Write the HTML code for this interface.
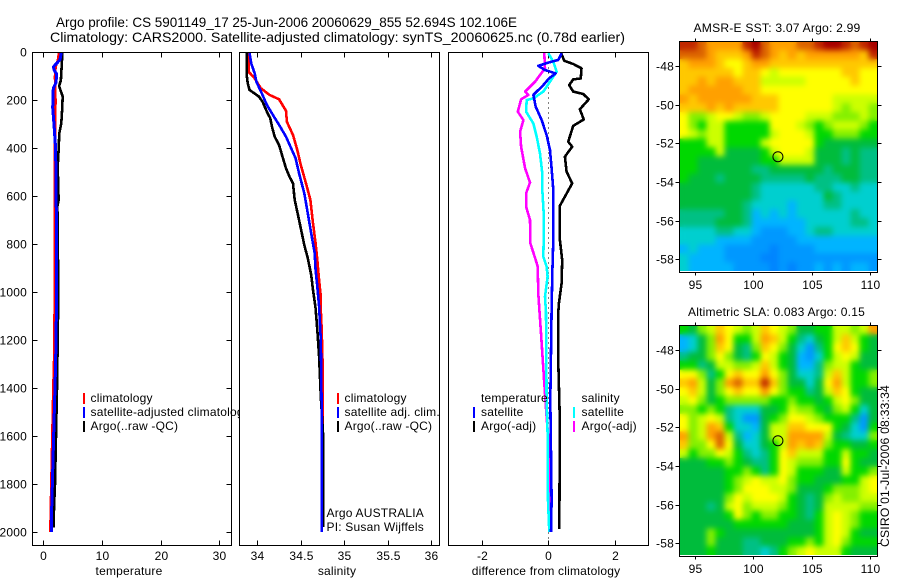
<!DOCTYPE html>
<html>
<head>
<meta charset="utf-8">
<title>Argo profile</title>
<style>
html,body{margin:0;padding:0;background:#fff;}
svg{display:block;}
text{font-family:"Liberation Sans",sans-serif;font-size:12px;fill:#000;letter-spacing:0.2px;}
.t14{font-size:14px;letter-spacing:0;}
</style>
</head>
<body>
<svg id="chart" xmlns="http://www.w3.org/2000/svg" width="900" height="580" viewBox="0 0 900 580">
  <defs>
    <filter id="mapSmooth" filterUnits="userSpaceOnUse" x="660" y="30" width="230" height="540" color-interpolation-filters="sRGB">
      <feGaussianBlur in="SourceGraphic" stdDeviation="3" result="soft"/>
      <feMerge>
        <feMergeNode in="SourceGraphic"/>
        <feMergeNode in="soft"/>
      </feMerge>
    </filter>
    <clipPath id="clipSst"><rect x="679.5" y="41.5" width="198" height="229.5"/></clipPath>
    <clipPath id="clipSla"><rect x="679.5" y="325.5" width="198" height="229.5"/></clipPath>
  </defs>
  <rect x="0" y="0" width="900" height="580" fill="#fff"/>
  <text class="t14" x="56" y="27" textLength="461" lengthAdjust="spacingAndGlyphs">Argo profile: CS 5901149_17 25-Jun-2006 20060629_855 52.694S 102.106E</text>
  <text class="t14" x="50" y="42" textLength="575" lengthAdjust="spacingAndGlyphs">Climatology: CARS2000. Satellite-adjusted climatology: synTS_20060625.nc (0.78d earlier)</text>

  <g id="panel1"></g>
  <g id="legend1">
    <rect x="83" y="393" width="2" height="11" fill="#f00"/>
    <rect x="83" y="407" width="2" height="11" fill="#00f"/>
    <rect x="83" y="421" width="2" height="11" fill="#000"/>
    <text x="90.5" y="402">climatology</text>
    <text x="90.5" y="416">satellite-adjusted climatology</text>
    <text x="90.5" y="430">Argo(..raw -QC)</text>
  </g>

  <g id="panel2"></g>
  <g id="legend2">
    <rect x="337" y="393" width="2" height="11" fill="#f00"/>
    <rect x="337" y="407" width="2" height="11" fill="#00f"/>
    <rect x="337" y="421" width="2" height="11" fill="#000"/>
    <text x="344.5" y="402">climatology</text>
    <text x="344.5" y="416">satellite adj. clim.</text>
    <text x="344.5" y="430">Argo(..raw -QC)</text>
    <text x="326.5" y="517">Argo AUSTRALIA</text>
    <text x="326.5" y="531">PI: Susan Wijffels</text>
  </g>

  <g id="panel3"></g>
  <g id="legend3">
    <rect x="473" y="407" width="2" height="11" fill="#00f"/>
    <rect x="473" y="421" width="2" height="11" fill="#000"/>
    <rect x="573" y="407" width="2" height="11" fill="#0ff"/>
    <rect x="573" y="421" width="2" height="11" fill="#f0f"/>
    <text x="481" y="402">temperature</text>
    <text x="481" y="416">satellite</text>
    <text x="481" y="430">Argo(-adj)</text>
    <text x="581.5" y="402">salinity</text>
    <text x="581.5" y="416">satellite</text>
    <text x="581.5" y="430">Argo(-adj)</text>
  </g>

  <g id="map1"></g>
  <g id="map2"></g>
  <text x="777" y="32" text-anchor="middle" textLength="167" lengthAdjust="spacingAndGlyphs">AMSR-E SST: 3.07 Argo: 2.99</text>
  <text x="776.5" y="316" text-anchor="middle" textLength="177" lengthAdjust="spacingAndGlyphs">Altimetric SLA: 0.083 Argo: 0.15</text>
  <text transform="translate(889,547) rotate(-90)" textLength="162" lengthAdjust="spacingAndGlyphs">CSIRO 01-Jul-2006 08:33:34</text>
</svg>
<script>
// ---- axis tick labels
const depthTicks = [0,200,400,600,800,1000,1200,1400,1600,1800,2000];
const tempTicks = [0,10,20,30];
const salTicks = [34,34.5,35,35.5,36];
const diffTicks = [-2,0,2];
const lonTicks = [95,100,105,110];
const latTicks = [-48,-50,-52,-54,-56,-58];

// ---- temperature series
const tempClimDepth = [0,30,60,100,200,400,1000,1250,1400,1800,2000];
const tempClimValues = [2.68,2.5,2.1,2.0,2.08,2.0,1.94,1.88,1.7,1.37,1.2];
const tempArgoDepth = [0,115,140,184,240,295,337,408,477,615,640,1000,1200,1400,1600,1800,1900,1980];
const tempArgoValues = [3.25,3.0,2.7,3.3,3.2,3.07,2.73,2.6,2.45,2.6,2.4,2.55,2.45,2.33,2.16,2.0,1.82,1.77];
const tempSatDepth = [0,30,45,60,75,90,125,150,230,300,400,600,1000,1300,1500,1700,1900,2000];
const tempSatValues = [3.07,2.85,2.28,1.7,1.9,2.28,2.16,1.7,1.6,1.82,2.1,2.2,2.28,2.1,1.88,1.65,1.43,1.43];

// ---- salinity series
const salClimDepth = [0,20,80,108,149,177,195,243,289,344,407,469,546,615,712,796,865,949,1018,1074,1157,1300,1500,2000];
const salClimValues = [33.9,33.9,33.9,33.97,34.04,34.14,34.25,34.33,34.34,34.41,34.46,34.5,34.56,34.61,34.64,34.67,34.69,34.71,34.73,34.73,34.74,34.75,34.75,34.74];
const salArgoDepth = [0,101,128,156,184,205,247,275,312,351,386,434,483,518,546,615,664,733,803,858,928,990,1067,1157,1268,1435,1587,1866,1978];
const salArgoValues = [33.88,33.88,33.89,33.91,34.02,34.06,34.11,34.15,34.17,34.2,34.25,34.29,34.33,34.37,34.41,34.43,34.46,34.5,34.54,34.58,34.62,34.64,34.67,34.69,34.71,34.73,34.755,34.76,34.76];
const salSatDepth = [0,45,87,122,177,219,261,302,351,400,441,504,587,671,754,837,907,976,1060,1200,1500,1880,2000];
const salSatValues = [33.91,33.93,33.97,33.99,34.06,34.11,34.18,34.25,34.33,34.39,34.44,34.48,34.54,34.58,34.62,34.66,34.67,34.69,34.71,34.73,34.74,34.74,34.74];

// ---- difference series
const diffTempArgoDepth = [0,34,48,66,108,112,136,163,173,195,237,279,306,372,393,434,497,546,639,782,865,963,1046,1084,1293,1543,1988];
const diffTempArgoValues = [0.38,0.48,0.75,1.0,0.98,0.75,0.63,0.75,1.05,1.22,0.95,1.07,0.75,0.6,0.72,0.5,0.55,0.72,0.35,0.35,0.42,0.4,0.32,0.3,0.3,0.35,0.33];
const diffTempSatDepth = [3,31,42,56,73,87,108,136,177,226,282,344,407,483,573,671,782,921,1074,1449,1866,2000];
const diffTempSatValues = [0.4,0.3,0,-0.3,-0.1,0.22,0.02,-0.15,-0.45,-0.38,-0.2,-0.05,0.05,0.1,0.15,0.15,0.15,0.12,0.1,0.06,0.1,0.08];
const diffSalSatDepth = [3,38,80,115,163,191,198,247,296,351,421,504,573,671,782,851,893,935,1018,1084,1449,1588,1866,2000];
const diffSalSatValues = [0,0.15,0.25,0.08,-0.15,-0.45,-0.65,-0.67,-0.45,-0.35,-0.25,-0.18,-0.18,-0.14,-0.14,-0.15,-0.05,-0.02,-0.1,-0.07,-0.05,-0.02,-0.01,0.03];
const diffSalArgoDepth = [3,66,122,163,177,195,247,282,330,393,483,542,587,643,698,796,865,893,1004,1032,1171,1380,1519,1658,1936,2000];
const diffSalArgoValues = [-0.12,-0.1,-0.4,-0.7,-0.6,-0.82,-0.92,-0.75,-0.85,-0.82,-0.7,-0.55,-0.67,-0.67,-0.55,-0.54,-0.38,-0.32,-0.3,-0.29,-0.22,-0.12,-0.05,0.03,0.08,0.08];

// ---- map level colour ramp (index = level)
const levelColors = ['#0084ff','#0098ff','#00b4ff','#00cfcf','#00c084','#00bc3c','#00d800','#84f000','#ccff00','#ffff00','#ffc800','#ffa000','#dc6400','#c02800','#a80000'];

// ---- gridded map levels (rows north to south)
const sstCells = [
[13,13,12,11,11,11,11,13,14,12,11,11,11,12,12,13,14,14,13,12,13,14],
[12,12,12,11,10,10,10,11,13,12,11,10,11,10,11,11,11,11,11,11,10,13],
[10,11,11,11,10,9,9,10,11,11,10,10,10,10,10,10,10,10,10,10,10,10],
[10,10,10,10,10,10,9,10,10,9,8,9,9,9,9,9,9,9,10,10,9,9],
[10,10,11,10,11,11,10,10,10,8,8,8,8,8,9,9,9,9,9,10,9,9],
[10,11,11,11,11,11,11,10,10,9,9,9,9,9,9,9,9,9,9,9,9,9],
[11,10,11,11,11,11,11,11,10,10,10,9,9,9,9,9,9,8,8,8,8,8],
[10,10,10,11,10,11,10,10,10,10,10,9,9,9,9,9,9,8,7,8,8,7],
[9,7,7,8,9,9,8,7,7,8,9,9,9,9,8,8,8,7,7,7,8,7],
[9,7,6,8,8,6,6,6,6,6,9,9,9,8,7,6,7,8,8,8,7,6],
[9,8,7,8,8,6,6,6,6,6,8,9,9,9,8,6,6,7,7,7,6,6],
[6,6,6,8,8,6,6,6,6,8,9,9,9,9,9,6,5,5,5,5,5,5],
[6,6,6,6,8,5,5,5,5,6,8,9,9,9,8,5,5,5,4,5,4,4],
[6,6,5,5,5,5,5,5,5,6,6,8,8,8,8,5,5,5,4,5,4,4],
[6,6,5,5,5,5,5,5,4,4,5,5,5,5,5,5,4,5,5,5,4,4],
[6,5,5,5,4,5,5,5,5,4,4,4,4,4,5,4,4,4,5,5,4,4],
[5,5,5,5,5,5,5,5,4,3,3,3,3,3,3,4,4,3,3,4,3,3],
[5,5,5,5,5,5,5,5,4,3,3,3,3,3,3,3,5,4,3,3,3,3],
[5,5,5,5,5,5,5,4,3,3,3,3,2,3,3,3,4,4,3,3,3,3],
[4,4,4,4,4,5,5,4,2,3,2,3,2,3,3,3,3,3,3,4,3,3],
[4,4,4,4,5,5,5,4,2,2,2,2,2,2,3,3,3,3,3,4,4,3],
[3,3,3,3,4,4,3,3,2,1,1,1,2,2,3,4,4,3,3,3,3,3],
[3,3,3,3,2,2,2,2,1,1,1,1,1,2,2,2,2,2,2,2,2,2],
[2,3,2,2,2,1,1,1,1,1,0,1,1,1,1,2,2,2,2,2,2,2],
[3,2,2,2,2,1,1,1,1,0,0,1,1,1,1,1,1,1,1,1,1,1],
[3,2,2,2,2,2,1,1,1,1,0,1,0,1,1,2,1,2,1,2,2,1]
];
const slaCells = [
[6,5,7,8,10,9,8,7,8,10,9,8,7,5,5,6,6,8,8,7,8,11],
[2,3,5,7,11,9,6,6,8,11,10,8,6,4,3,5,6,8,10,8,6,5],
[2,3,5,7,10,9,5,4,7,10,9,7,5,3,1,4,6,9,10,9,6,5],
[4,5,5,7,9,7,5,4,6,9,8,6,5,2,1,3,6,8,9,8,5,5],
[6,6,4,5,8,8,7,7,8,10,8,6,5,2,2,4,7,8,8,6,5,5],
[9,9,7,4,6,9,10,9,9,11,9,7,5,3,3,4,8,10,8,6,6,7],
[10,11,8,5,7,11,12,10,10,13,10,7,5,5,3,5,9,11,8,6,6,7],
[9,10,8,5,7,9,10,9,9,11,9,7,6,6,4,5,8,10,9,6,5,5],
[8,9,7,5,6,7,7,7,7,7,6,6,7,6,6,5,6,8,9,7,5,5],
[7,7,6,7,6,4,3,3,3,5,5,6,8,7,7,6,5,7,8,6,3,5],
[9,7,8,9,8,4,3,1,1,5,6,7,9,9,8,7,6,6,6,4,1,5],
[9,7,8,11,10,6,3,3,2,5,8,8,10,10,9,9,9,6,5,3,1,6],
[11,7,8,11,12,8,4,2,3,5,8,8,11,11,11,11,8,5,4,3,3,7],
[10,7,7,9,12,9,5,3,3,5,6,8,11,10,11,10,7,6,6,5,5,6],
[8,6,7,7,9,8,6,4,3,4,6,9,10,8,8,8,6,6,8,6,6,5],
[5,5,5,6,6,7,6,5,4,4,6,9,8,7,7,7,6,6,9,6,5,5],
[5,5,5,5,5,6,6,7,6,4,6,9,8,6,6,6,5,5,8,6,6,7],
[5,5,5,5,5,6,7,8,9,8,8,9,7,6,6,5,5,5,6,6,8,9],
[5,5,5,5,5,6,7,9,9,9,8,8,7,5,5,5,6,7,7,7,8,9],
[5,5,5,5,5,7,9,8,9,9,9,8,6,5,4,5,7,8,7,7,8,8],
[5,5,5,4,5,8,9,7,8,8,8,7,6,5,4,5,8,8,8,8,7,7],
[5,5,5,5,5,6,9,7,6,7,7,6,6,5,4,6,8,9,8,7,6,6],
[5,5,5,5,5,5,6,6,6,6,6,6,5,5,5,6,8,9,8,7,6,6],
[5,5,5,7,6,5,5,5,5,5,5,5,5,5,5,6,8,9,8,6,5,5],
[5,5,5,7,5,5,5,4,4,5,5,5,6,6,7,6,8,9,7,6,6,6],
[5,5,5,6,5,5,5,4,4,3,4,6,7,8,9,8,8,8,6,5,5,5]
];
const floatLon = 102.106;
const floatLat = -52.694;

const NS = 'http://www.w3.org/2000/svg';
const PLOT_TOP = 52.5, PLOT_BOTTOM = 545.5;
function depthY(d){ return 52.5 + d * 0.2398; }
function tempX(v){ return 43.3 + v * 5.867; }
function salX(v){ return 257.3 + (v - 34) * 87; }
function diffX(v){ return 548.3 + v * 33.2; }

function make(parent, tag, attrs){
  const el = document.createElementNS(NS, tag);
  for (const k in attrs) el.setAttribute(k, attrs[k]);
  parent.appendChild(el);
  return el;
}
function drawSeries(parent, name, depths, values, xf, color, width){
  const pts = depths.map((d, i) => xf(values[i]).toFixed(1) + ',' + depthY(d).toFixed(1)).join(' ');
  const line = make(parent, 'polyline', {points: pts, fill: 'none', stroke: color, 'stroke-width': width, 'stroke-linejoin': 'round', 'shape-rendering': 'crispEdges'});
  
  
}
function drawFrame(parent, name, x0, x1, ticks, xf, xTitle, titleX){
  const bg = make(parent, 'rect', {x: x0, y: PLOT_TOP, width: x1 - x0, height: PLOT_BOTTOM - PLOT_TOP, fill: '#fff'});
  
  
  ticks.forEach(t => {
    const x = Math.round(xf(t)) + 0.5;
    const tt = make(parent, 'line', {x1: x, x2: x, y1: PLOT_TOP, y2: PLOT_TOP + 5, stroke: '#000'});
    
    
    const bt = make(parent, 'line', {x1: x, x2: x, y1: PLOT_BOTTOM - 5, y2: PLOT_BOTTOM, stroke: '#000'});
    
    
    const lb = make(parent, 'text', {x: x, y: 560, 'text-anchor': 'middle'});
    lb.textContent = String(t);
    
    
  });
  const ti = make(parent, 'text', {x: titleX, y: 575, 'text-anchor': 'middle'});
  ti.textContent = xTitle;
  
  
}
function drawBorder(parent, name, x0, x1){
  const b = make(parent, 'rect', {x: x0, y: PLOT_TOP, width: x1 - x0, height: PLOT_BOTTOM - PLOT_TOP, fill: 'none', stroke: '#000'});
  
  
}

// panel 1
const p1 = document.getElementById('panel1');
drawFrame(p1, 'temperature', 32.5, 231.5, tempTicks, tempX, 'temperature', 129);
depthTicks.forEach(d => {
  const y = Math.floor(depthY(d)) + 0.5;
  const a = make(p1, 'line', {x1: 32.5, x2: 37.5, y1: y, y2: y, stroke: '#000'});
  
  
  const b = make(p1, 'line', {x1: 226.5, x2: 231.5, y1: y, y2: y, stroke: '#000'});
  
  
  const t = make(p1, 'text', {x: 27, y: y + 4, 'text-anchor': 'end'});
  t.textContent = String(d);
  
  
});
drawSeries(p1, 'temperature-climatology-line', tempClimDepth, tempClimValues, tempX, '#f00', 2.6);
drawSeries(p1, 'temperature-argo-line', tempArgoDepth, tempArgoValues, tempX, '#000', 2.6);
drawSeries(p1, 'temperature-satellite-line', tempSatDepth, tempSatValues, tempX, '#00f', 3);

// panel 2 (white plot area is appended after legend 1 so it clips the overflowing label)
drawBorder(p1, 'temperature', 32.5, 231.5);
const p2 = document.getElementById('panel2');
p1.parentNode.insertBefore(document.getElementById('legend1'), p2);
drawFrame(p2, 'salinity', 239.5, 439.5, salTicks, salX, 'salinity', 337);
drawSeries(p2, 'salinity-climatology-line', salClimDepth, salClimValues, salX, '#f00', 2.6);
drawSeries(p2, 'salinity-argo-line', salArgoDepth, salArgoValues, salX, '#000', 2.6);
drawSeries(p2, 'salinity-satellite-line', salSatDepth, salSatValues, salX, '#00f', 2.6);
drawBorder(p2, 'salinity', 239.5, 439.5);

// panel 3
const p3 = document.getElementById('panel3');
drawFrame(p3, 'difference', 448.5, 648.5, diffTicks, diffX, 'difference from climatology', 546);
const zeroX = Math.round(diffX(0)) + 0.5;
const zero = make(p3, 'line', {x1: zeroX, x2: zeroX, y1: PLOT_TOP, y2: PLOT_BOTTOM, stroke: '#000', 'stroke-dasharray': '1 4'});


drawSeries(p3, 'difference-temperature-argo-line', diffTempArgoDepth, diffTempArgoValues, diffX, '#000', 2.6);
drawSeries(p3, 'difference-salinity-argo-line', diffSalArgoDepth, diffSalArgoValues, diffX, '#f0f', 2.6);
drawSeries(p3, 'difference-salinity-satellite-line', diffSalSatDepth, diffSalSatValues, diffX, '#0ff', 2.6);
drawSeries(p3, 'difference-temperature-satellite-line', diffTempSatDepth, diffTempSatValues, diffX, '#00f', 2.6);
drawBorder(p3, 'difference', 448.5, 648.5);

// maps
function drawMap(parent, name, cells, top, bottom, dataBottom, lat48Y, labelY, clipId){
  const left = 679.5, right = 877.5;
  const lonX = v => 695 + (v - 95) * 11.67;
  const latY = v => lat48Y + (-48 - v) * 19.33;
  const rows = cells.length, cols = cells[0].length;
  const cw = (right - left) / cols, ch = (dataBottom - top) / rows;
  const clip = make(parent, 'g', {'clip-path': 'url(#' + clipId + ')'});
  
  
  const img = make(clip, 'g', {filter: 'url(#mapSmooth)'});
  
  
  cells.forEach((row, j) => row.forEach((level, i) => {
    const c = make(img, 'rect', {x: (left + i * cw).toFixed(2), y: (top + j * ch).toFixed(2), width: (cw + 0.4).toFixed(2), height: (ch + 0.4).toFixed(2), fill: levelColors[level]});
    
    
  }));
  const fr = make(parent, 'rect', {x: left, y: top, width: right - left, height: bottom - top, fill: 'none', stroke: '#000'});
  
  
  lonTicks.forEach(t => {
    const x = Math.round(lonX(t)) + 0.5;
    [[top - 3, top], [bottom, bottom + 3]].forEach(s => {
      const tk = make(parent, 'line', {x1: x, x2: x, y1: s[0], y2: s[1], stroke: '#000'});
      
      
    });
    const lb = make(parent, 'text', {x: x, y: labelY, 'text-anchor': 'middle'});
    lb.textContent = String(t);
    
    
  });
  latTicks.forEach(t => {
    const y = Math.round(latY(t)) + 0.5;
    [[left - 4, left], [right, right + 4]].forEach(s => {
      const tk = make(parent, 'line', {x1: s[0], x2: s[1], y1: y, y2: y, stroke: '#000'});
      
      
    });
    const lb = make(parent, 'text', {x: 674, y: y + 4, 'text-anchor': 'end'});
    lb.textContent = String(t);
    
    
  });
  const m = make(parent, 'circle', {cx: lonX(floatLon), cy: latY(floatLat), r: 5, fill: 'none', stroke: '#000'});
  
  
}
drawMap(document.getElementById('map1'), 'sst-map', sstCells, 41.5, 272.5, 271, 66, 289, 'clipSst');
drawMap(document.getElementById('map2'), 'sla-map', slaCells, 325.5, 556.5, 555, 350, 573, 'clipSla');
</script>
</body>
</html>
